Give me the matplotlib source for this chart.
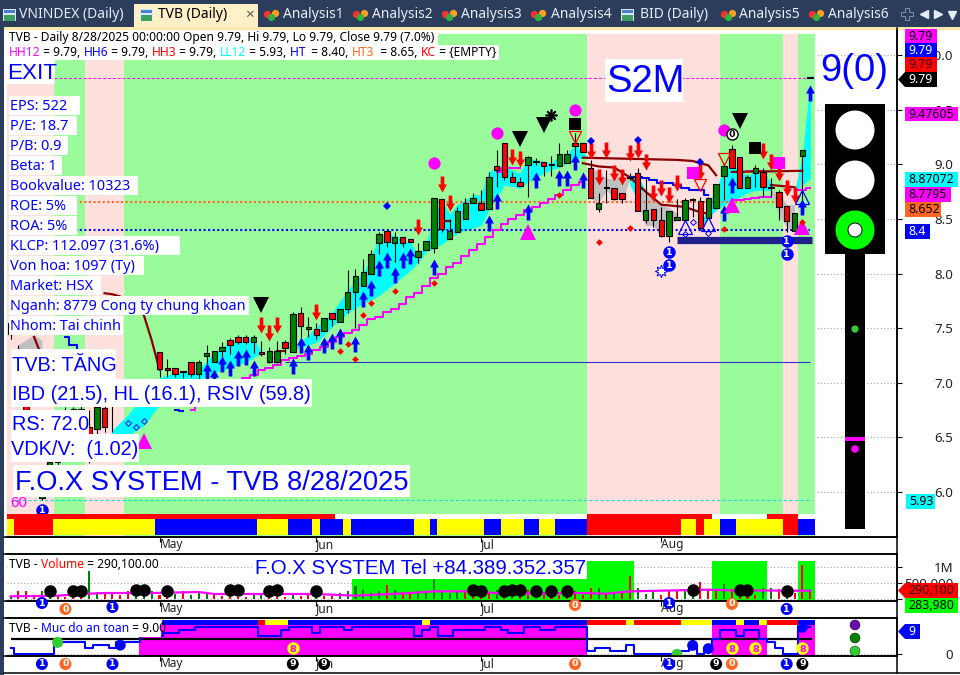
import numpy as np
import matplotlib
matplotlib.use("Agg")
import matplotlib.pyplot as plt
from matplotlib.patches import Rectangle, Circle, Polygon
from matplotlib.path import Path

# ---------- data ----------
bar_index = list(range(-4, 99))
month_labels = ["May", "Jun", "Jul", "Aug"]
month_bars = [15, 35, 56, 79]

opens = [7.55,7.31,7.10,6.72,5.95,6.00,6.28,6.72,6.42,6.76,6.60,6.58,6.77,6.95,6.84,6.84,6.88,6.90,6.95,
 7.28,7.13,7.14,7.11,7.19,7.08,7.25,7.19,7.29,7.39,7.42,7.42,7.37,7.28,7.19,7.19,7.37,7.28,7.64,7.49,7.49,
 7.47,7.64,7.56,7.68,7.83,7.89,8.00,8.28,8.39,8.28,8.33,8.32,8.15,8.22,8.23,8.68,8.32,8.38,8.50,8.65,8.65,
 8.59,8.98,9.19,8.88,8.84,8.99,9.03,9.02,8.99,8.98,9.01,9.19,9.19,8.97,8.59,8.78,8.78,8.74,8.87,8.92,8.49,
 8.59,8.49,8.34,8.49,8.49,8.67,8.66,8.51,8.60,8.89,9.14,9.07,8.78,8.92,8.93,8.78,8.75,8.62,8.39,9.08,9.79]
highs = [7.60,7.35,7.15,6.75,5.98,6.30,6.75,6.78,6.78,6.80,6.75,6.80,6.82,7.00,7.00,7.00,7.00,7.02,7.02,
 7.28,7.22,7.14,7.11,7.19,7.21,7.35,7.29,7.37,7.41,7.44,7.44,7.44,7.38,7.33,7.38,7.39,7.65,7.69,7.60,7.55,
 7.59,7.64,7.68,8.03,8.04,8.13,8.22,8.38,8.39,8.38,8.33,8.32,8.28,8.30,8.69,8.68,8.50,8.61,8.69,8.74,8.76,
 8.93,9.13,9.19,8.93,8.88,9.08,9.06,9.02,9.08,9.19,9.13,9.29,9.19,9.04,8.74,8.95,8.78,8.74,8.92,8.97,8.88,
 8.59,8.61,8.57,8.68,8.69,8.69,8.70,8.70,8.82,9.01,9.18,9.07,8.90,8.99,8.97,8.87,8.76,8.62,8.55,9.13,9.79]
lows = [7.40,7.25,6.72,6.30,5.93,5.98,6.25,6.40,6.40,6.40,6.27,6.52,6.55,6.55,6.80,6.80,6.80,6.85,6.85,
 7.05,7.05,7.05,7.04,7.05,7.03,7.14,7.19,7.21,7.26,7.36,7.36,7.27,7.25,7.18,7.18,7.26,7.28,7.42,7.42,7.40,
 7.47,7.52,7.56,7.64,7.50,7.89,8.00,8.18,8.24,8.11,8.24,8.29,8.10,8.22,8.19,8.38,8.32,8.38,8.50,8.65,8.58,
 8.59,8.79,8.86,8.84,8.80,8.70,8.99,8.89,8.89,8.98,9.01,9.07,9.11,8.69,8.56,8.65,8.67,8.65,8.86,8.57,8.46,
 8.43,8.33,8.29,8.49,8.49,8.52,8.40,8.51,8.60,8.67,8.97,8.78,8.78,8.79,8.70,8.70,8.49,8.38,8.39,8.55,9.79]
closes = [7.45,7.30,6.72,6.30,5.97,6.28,6.72,6.42,6.76,6.45,6.30,6.78,6.60,6.82,6.98,6.95,6.95,7.00,7.00,
 7.13,7.12,7.08,7.10,7.08,7.19,7.27,7.29,7.33,7.35,7.37,7.37,7.42,7.26,7.29,7.29,7.32,7.63,7.52,7.51,7.44,
 7.59,7.58,7.68,7.83,7.98,8.01,8.18,8.36,8.29,8.33,8.28,8.29,8.21,8.30,8.69,8.41,8.39,8.57,8.65,8.69,8.58,
 8.88,8.95,8.88,8.84,8.80,9.07,9.02,8.98,8.99,9.09,9.09,9.17,9.11,8.69,8.65,8.78,8.68,8.68,8.88,8.57,8.58,
 8.49,8.34,8.57,8.52,8.67,8.67,8.42,8.69,8.82,8.98,8.97,8.78,8.88,8.97,8.79,8.78,8.61,8.48,8.55,9.13,9.79]

volume_k = [52,260,260,135,260,208,135,62,156,62,884,218,166,187,135,239,187,135,260,135,62,166,260,135,218,187,
 187,104,156,62,62,166,166,156,62,62,166,83,187,156,83,83,187,260,416,291,187,239,447,270,166,187,239,187,634,
 239,187,260,291,208,208,187,291,208,83,83,291,156,208,156,135,156,239,135,343,343,166,166,239,707,343,166,291,
 135,239,270,270,104,520,291,291,478,312,156,135,135,343,343,312,62,187,1071,290]
volume_colour = list("grrrggrrrrggrrrrgggrrgrgggrrrrrggrrrgrrgrrggggggrgrrggg"
                     "gggrrrrgrgrrgrrrrrrrgrgrrgggrrrggrrrgrrrrggr")
volume_ma_bars = [-4,2,6,8,14,20,22,29,35,40,47,50,55,59,69,72,75,85,88,96,98]
volume_ma_k = [83,104,166,187,187,218,156,156,156,104,187,239,239,166,187,166,239,291,270,260,260]
volume_tick_values = [0, 500, 1000]
volume_tick_labels = ["", "500,000", "1M"]

safety = [2,0,0,0,0,0,4,4,4,4,2,3,3,2,4,4,4,6,6,6,7,7,8,8,9,9,9,9,9,9,9,9,6,6,6,8,9,9,9,7,9,9,9,8,9,9,9,9,9,9,9,9,
 6,8,9,6,6,8,8,8,8,9,9,8,7,7,9,9,8,8,9,9,9,9,1,2,2,1,1,3,0,0,0,0,0,0,1,3,0,2,5,8,8,6,8,8,5,4,2,0,0,9,9]

# regimes, as bar-index edges
bg_edges = [-4.45,1.5,5.45,10.45,69.5,86.5,94.5,96.5,98.6]
bg_kinds = ["p","g","p","g","p","g","p","g"]
ribbon_edges = [-4.45,-3.56,1.45,14.45,27.45,31.4,34.5,35.5,38.45,39.45,47.5,49.5,50.4,56.4,58.5,61.5,63.4,65.5,
 69.5,81.5,83.4,84.5,86.5,88.5,94.5,96.5,98.6]
ribbon_kinds = "yrybybybybybybybybryrybyrb"
alert_starts = [-4.45, 69.5, 92.5]
alert_ends = [37.4, 85.5, 96.5]
vol_zone_starts = [39.5, 85.5, 96.5]
vol_zone_ends = [75.5, 92.5, 98.6]
safe_zone_starts = [12.4, 85.5, 96.5]
safe_zone_ends = [69.5, 92.5, 98.6]
safe_rib_edges = [15.3,27.5,28.5,31.4,48.5,49.5,69.5,74.5,75.5,81.5,85.5,88.5,89.5,91.5,92.5,96.5,98.6]
safe_rib_kinds = "brybybryrybybyrb"

# envelopes
cy_a_x=[9,11,13,15,17,19,20,22,24,26,27,28]
cy_a_hi=[6.57,6.71,6.89,7.05,7.09,7.10,7.12,7.28,7.37,7.41,7.41,7.28]
cy_a_lo=[6.53,6.52,6.61,6.80,6.89,6.95,7.03,7.09,7.14,7.19,7.23,7.28]
cy_b_x=[32,35,37,39,41,42,43,45,47,48,49,50,51,52,53,55,56,57,58,59,61,62,63,65,66,67,68,69.5]
cy_b_hi=[7.30,7.51,7.64,7.85,8.01,8.14,8.35,8.35,8.28,8.17,8.26,8.54,8.67,8.54,8.63,8.72,8.72,8.93,8.97,8.97,8.92,9.06,9.04,9.01,9.08,9.09,9.18,9.07]
cy_b_lo=[7.30,7.37,7.51,7.64,7.73,7.76,7.80,7.91,8.03,8.10,8.20,8.23,8.27,8.32,8.37,8.42,8.44,8.58,8.70,8.81,8.78,8.84,8.88,8.95,8.97,9.01,9.04,9.07]
cy_c_x=[75,76,77]; cy_c_hi=[8.88,8.90,8.76]; cy_c_lo=[8.81,8.67,8.70]
cy_d_x=[84,85,86,87,88,89,90,91,92,93]
cy_d_hi=[8.44,8.63,8.78,8.95,8.99,8.95,8.89,8.95,8.93,8.83]
cy_d_lo=[8.40,8.51,8.58,8.63,8.67,8.70,8.74,8.76,8.76,8.76]
cy_e_x=[96,97,98]; cy_e_hi=[8.76,9.08,9.77]; cy_e_lo=[8.76,8.81,8.87]

gr_a_x=[70,71,72,73,74,75]; gr_a_hi=[8.97,8.93,8.87,8.87,8.87,8.87]; gr_a_lo=[8.69,8.65,8.76,8.69,8.67,8.86]
gr_b_x=[76,77,78,79,80,81]; gr_b_hi=[8.76,8.76,8.70,8.63,8.60,8.55]; gr_b_lo=[8.63,8.44,8.44,8.33,8.44,8.49]
gr_c_x=[93,94,95,96]; gr_c_hi=[8.76,8.74,8.63,8.63]; gr_c_lo=[8.74,8.54,8.42,8.39]
gr_d_x=[96.6,97]; gr_d_hi=[8.72,9.04]; gr_d_lo=[8.72,8.76]
gr_e_x=[31.5,32]; gr_e_hi=[7.39,7.53]; gr_e_lo=[7.39,7.39]
gr_f_x=[-3,-1,0]; gr_f_hi=[7.35,7.44,7.39]; gr_f_lo=[7.30,7.25,7.23]

# trail lines
trail_x=list(range(19,70))
trail=[6.75,6.79,6.84,6.89,6.93,6.98,7.03,7.04,7.07,7.12,7.14,7.16,7.21,7.23,7.25,7.26,7.30,7.33,7.37,7.42,7.46,
 7.48,7.53,7.58,7.60,7.65,7.68,7.72,7.79,7.82,7.89,7.96,8.00,8.06,8.10,8.16,8.22,8.27,8.33,8.40,8.45,8.50,8.54,
 8.58,8.61,8.65,8.68,8.72,8.76,8.81,8.84]
trail_b_x=[58,59,60,61]; trail_b=[8.93,8.97,8.97,8.97]
trail_c_x=[88,89,90,91,92,93]; trail_c=[8.67,8.67,8.68,8.69,8.70,8.70]
trail_d_x=[90,91,92]; trail_d=[8.94,8.94,8.94]
trail_e_x=[96,97,98]; trail_e=[8.76,8.76,8.78]
brown_a_x=[69,71,73,75,77,79,82,84,85]; brown_a=[9.01,8.98,8.97,8.88,8.75,8.63,8.61,8.56,8.55]
brown_b_x=[69,81,83,85,86]; brown_b=[9.06,9.04,9.03,8.99,8.90]
brown_c_x=[88,97]; brown_c=[8.93,8.94]
brown_d_x=[93,96]; brown_d=[8.81,8.79]
brown_e_x=[8,9,10,13,14,15]; brown_e=[7.82,7.81,7.79,7.62,7.39,7.12]
brown_f_x=[-1,0]; brown_f=[7.42,7.24]
brown_g_x=[30,31]; brown_g=[7.29,7.29]
brown_h_x=[51,52]; brown_h=[8.48,8.48]
blue_a_x=[75,76,77,78,79,80,81,82,83,84,85]; blue_a=[8.88,8.88,8.87,8.86,8.83,8.83,8.81,8.78,8.76,8.76,8.72]
blue_b_x=[3,4,5]; blue_b=[7.42,7.35,7.24]
blue_c_x=[17,18]; blue_c=[6.75,6.74]

hh_level=9.79; ht3_level=8.652; ht_level=8.40; mid_level=7.19; ll_level=5.93; floor_level=8.31

# signals
up_x=[21,22,23,24,25,26,27,32,33,34,36,37,38,40,41,42,43,44,45,46,47,50,57,58,62,63,66,67,68,69,87,88,97,98]
up_y=[7.11,7.05,7.17,7.14,7.23,7.24,7.14,7.15,7.35,7.28,7.35,7.38,7.43,7.36,7.77,7.87,8.05,8.12,7.99,8.12,8.16,8.06,
 8.46,8.66,8.56,8.86,8.87,8.87,9.02,8.86,8.55,8.81,8.61,9.65]
down_x=[28,29,30,35,48,51,52,60,61,70,71,72,73,74,75,76,77,78,79,80,81,84,92,93,94,95,96]
down_y=[7.53,7.46,7.53,7.65,8.43,8.82,8.65,9.07,9.05,9.12,8.88,9.13,8.92,8.88,9.10,9.13,9.02,8.74,8.78,8.72,8.83,8.93,
 9.12,9.02,8.92,8.78,8.72]
tri_black_x=[28,61,64,89]; tri_black_y=[7.71,9.23,9.36,9.40]
star_x=[65]; star_y=[9.45]
sq_black_x=[68,91]; sq_black_y=[9.37,9.15]
tri_red_x=[68,84,87]; tri_red_y=[9.25,8.81,9.05]
dot_mag_x=[50,58,68,87]; dot_mag_y=[9.01,9.29,9.50,9.31]
sq_mag_x=[83,94]; sq_mag_y=[8.92,9.01]
tri_mag_x=[13,62,88,97]; tri_mag_y=[6.47,8.38,8.63,8.43]
tri_blue_x=[82,85,97]; tri_blue_y=[8.43,8.45,8.70]
dia_red_x=[38,39,40,41,42,45,50,66,71,75,87,97]; dia_red_y=[7.29,7.36,7.22,7.62,7.73,7.84,7.91,8.72,8.29,8.42,8.41,8.47]
dia_blue_x=[44,70,76,84]; dia_blue_y=[8.62,9.21,9.22,9.02]
dia_open_x=[11,12,13,82,83,85]; dia_open_y=[6.63,6.60,6.65,8.36,8.47,8.37]
one_x=[0,80,80,95,95]; one_y=[5.84,8.20,8.08,8.30,8.18]
snow_x=[79]; snow_y=[8.02]
ring_x=[88]; ring_y=[9.28]

vol_dot_x=[1,4,5,12,13,16,24,25,29,30,35,55,56,59,60,61,63,65,67,83,89,90,95]
vol_dot_k=[245,245,245,270,270,250,270,270,250,270,260,270,260,250,270,270,260,260,260,270,280,270,260]
vol_badge_x=[0,3,9,68,80,88,95]; vol_badge_t=["1","0","1","0","1","0","1"]; vol_badge_row=[603,609,607,605,603,604,609]
safe_badge_x=[0,3,9,32,36,68,80,86,88,95,97]; safe_badge_t=["1","0","1","9","9","0","1","9","0","1","9"]
safe_dot_x=[2,10,81,83,85,97]; safe_dot_v=[3.9,3.0,-0.1,2.9,1.8,9.0]; safe_dot_c=["#32CD32","#0000FF","#32CD32","#0000FF","#0000FF","#0000FF"]
eight_x=[32,88,91,97]; eight_v=[2.0,1.9,1.9,1.9]

price_ticks=[6.0,6.5,7.0,7.5,8.0,8.5,9.0,9.5,10.0]

# ---------- helpers ----------
W,H=960,675
plt.rcParams["font.family"]=["Noto Sans","DejaVu Sans"]
fig=plt.figure(figsize=(9.6,6.75),dpi=100,facecolor="white")
def pane(l,t,r,b,z=1):
    a=fig.add_axes([l/W,1-b/H,(r-l)/W,(b-t)/H],zorder=z)
    a.patch.set_alpha(0)
    return a
XL=(-4.452,109.07)
PINK="#FFE0DC"; LGREEN="#99FB99"; NAVY="#2C3D5B"
RED="#FF0000"; GRN="#008000"; BLUE="#0000FF"; MAG="#FF00FF"; CY="#00FFFF"; BRN="#8B0000"; OR="#FF6622"

def style(a):
    a.set_xlim(*XL)
    for s in ("top","left"):
        a.spines[s].set_visible(False)
    a.spines["bottom"].set_linewidth(1.1); a.spines["right"].set_linewidth(1.1)
    a.set_xticks(month_bars); a.set_xticklabels(month_labels,fontsize=8.6,color="#222222")
    for lb in a.get_xticklabels(): lb.set_ha("left")
    a.tick_params(axis="x",direction="out",length=3.5,width=.8,pad=-2.6)
    a.yaxis.tick_right()
    a.tick_params(axis="y",direction="out",length=3.6,width=.8,labelsize=9.6,labelcolor="#222222",pad=37)
    a.set_axisbelow(True)
    a.grid(axis="y",linestyle=(0,(1,2)),color="#A8A8A8",linewidth=.8)

def ylabels_right(a):
    for lb in a.get_yticklabels(): lb.set_ha("right")

# ---------- main pane ----------
ax=pane(7,30,897,537,1)
style(ax)
ax.set_ylim(5.5895,10.2285)
ax.set_yticks(price_ticks); ax.set_yticklabels([f"{p:.1f}" for p in price_ticks])
ylabels_right(ax)
for a,b,k in zip(bg_edges[:-1],bg_edges[1:],bg_kinds):
    ax.axvspan(a,b,ymin=1/507,ymax=503/507,color=PINK if k=="p" else LGREEN,lw=0,zorder=1)

for x,h,l in ((cy_a_x,cy_a_hi,cy_a_lo),(cy_b_x,cy_b_hi,cy_b_lo),(cy_c_x,cy_c_hi,cy_c_lo),(cy_d_x,cy_d_hi,cy_d_lo),(cy_e_x,cy_e_hi,cy_e_lo)):
    ax.fill_between(x,l,h,color=CY,lw=0,zorder=2)
for x,h,l in ((gr_a_x,gr_a_hi,gr_a_lo),(gr_b_x,gr_b_hi,gr_b_lo),(gr_c_x,gr_c_hi,gr_c_lo),(gr_d_x,gr_d_hi,gr_d_lo),(gr_e_x,gr_e_hi,gr_e_lo),(gr_f_x,gr_f_hi,gr_f_lo)):
    ax.fill_between(x,l,h,color="#C0C0C0",lw=0,zorder=2)

ax.hlines(hh_level,1.5,98,colors=MAG,linestyles=(0,(3,2)),lw=.7,zorder=3)
ax.hlines(ht3_level,-4,94,colors=OR,linestyles=(0,(1,1.2)),lw=1.5,zorder=3)
ax.hlines(ht_level,-4,98,colors=BLUE,linestyles=(0,(1,1.2)),lw=1.5,zorder=3)
ax.hlines(mid_level,31,98,colors="#3030D0",lw=.8,zorder=3)
ax.hlines(ll_level,-4,98,colors="#20D8D8",linestyles=(0,(3,2)),lw=.8,zorder=3)

for x,y in ((trail_x,trail),(trail_b_x,trail_b),(trail_c_x,trail_c),(trail_d_x,trail_d),(trail_e_x,trail_e)):
    ax.step(x,y,where="mid",color=MAG,lw=1.5,zorder=3)
for x,y in ((brown_a_x,brown_a),(brown_b_x,brown_b),(brown_c_x,brown_c),(brown_d_x,brown_d),(brown_e_x,brown_e),(brown_f_x,brown_f),(brown_g_x,brown_g),(brown_h_x,brown_h)):
    ax.plot(x,y,color=BRN,lw=1.6,zorder=3)
for x,y in ((blue_a_x,blue_a),(blue_b_x,blue_b),(blue_c_x,blue_c)):
    ax.step(x,y,where="mid",color=BLUE,lw=1.5,zorder=3)

xs=np.array(bar_index,float); O=np.array(opens); Hi=np.array(highs); Lo=np.array(lows); C=np.array(closes)
ax.vlines(xs,Lo,Hi,colors="black",lw=.8,zorder=4)
ax.bar(xs,np.maximum(np.abs(C-O),.012),bottom=np.minimum(O,C),width=.7,
       color=[GRN if c>=o else RED for o,c in zip(O,C)],edgecolor="black",linewidth=.8,zorder=4.1)

ax.hlines(floor_level,81,98.2,colors="#20208C",lw=5.2,zorder=4.5)

UP=Path([(0,1),(.56,0),(.23,0),(.23,-1),(-.23,-1),(-.23,0),(-.56,0),(0,1)])
DOWN=Path([(0,-1),(.56,0),(.23,0),(.23,1),(-.23,1),(-.23,0),(-.56,0),(0,-1)])
M=dict(ls="none",zorder=5)
ax.plot(up_x,up_y,marker=UP,ms=11.5,mfc=BLUE,mec=BLUE,mew=0,**M)
ax.plot(down_x,down_y,marker=DOWN,ms=11.5,mfc=RED,mec=RED,mew=0,**M)
ax.plot(tri_black_x,tri_black_y,marker="v",ms=11,mfc="k",mec="k",mew=0,**M)
ax.plot(star_x,star_y,marker=(8,2,0),ms=8.5,mec="k",mew=1.2,**M)
ax.plot(sq_black_x,sq_black_y,marker="s",ms=9,mfc="k",mec="k",mew=0,**M)
ax.plot(tri_red_x,tri_red_y,marker="v",ms=9,mfc="none",mec=RED,mew=.9,**M)
ax.plot(dot_mag_x,dot_mag_y,marker="o",ms=8.8,mfc=MAG,mec=MAG,mew=0,**M)
ax.plot(sq_mag_x,sq_mag_y,marker="s",ms=9,mfc=MAG,mec=MAG,mew=0,**M)
ax.plot(tri_mag_x,tri_mag_y,marker="^",ms=11,mfc=MAG,mec=MAG,mew=0,**M)
ax.plot(tri_blue_x,tri_blue_y,marker="^",ms=10,mfc="none",mec=BLUE,mew=.9,**M)
ax.plot(dia_red_x,dia_red_y,marker="D",ms=3.4,mfc=RED,mec=RED,mew=0,**M)
ax.plot(dia_blue_x,dia_blue_y,marker="D",ms=3.6,mfc=BLUE,mec=BLUE,mew=0,**M)
ax.plot(dia_open_x,dia_open_y,marker="D",ms=3,mfc="none",mec=BLUE,mew=.7,**M)
ax.plot(snow_x,snow_y,marker=(8,1,0),ms=9,mfc="white",mec=BLUE,mew=.7,**M)
def badge(a,x,y,t,fc,tc="white",ec=None,ms=9):
    a.plot([x],[y],marker="o",ms=ms,mfc=fc,mec=ec or fc,mew=1 if ec else 0,ls="none",zorder=6,clip_on=False)
    a.text(x,y,t,color=tc,fontsize=6.8,fontweight="bold",ha="center",va="center_baseline",zorder=7,family="DejaVu Sans")
for x,y in zip(one_x,one_y): badge(ax,x,y,"1",BLUE)
for x,y in zip(ring_x,ring_y): badge(ax,x,y,"0","white","black","black",8)

# ribbons
rb=pane(7,514,897,535,5); rb.axis("off"); rb.set_xlim(*XL); rb.set_ylim(21,0)
colours={"y":"#FFFF00","r":RED,"b":BLUE}
rb.broken_barh([(a,b-a) for a,b in zip(alert_starts,alert_ends)],(0,5),color=RED,lw=0)
rb.broken_barh([(-4.45,103.05)],(0,5),color="white",lw=0,zorder=0)
for a,b,k in zip(ribbon_edges[:-1],ribbon_edges[1:],ribbon_kinds):
    rb.broken_barh([(a,b-a)],(5,16),color=colours[k],lw=0)

# ---------- volume pane ----------
av=pane(7,554,897,601,1)
style(av)
av.spines["top"].set_visible(True); av.spines["top"].set_linewidth(1.1)
av.set_ylim(-62.5,1406)
av.set_yticks(volume_tick_values); av.set_yticklabels(volume_tick_labels)
ylabels_right(av)
for a,b in zip(vol_zone_starts,vol_zone_ends):
    av.fill_between([a,b],-40,1190,color="#00FF00",lw=0,zorder=1)
av.bar(bar_index,volume_k,width=.26,color=[GRN if c=="g" else RED for c in volume_colour],lw=0,zorder=2)
av.plot(volume_ma_bars,volume_ma_k,color=MAG,lw=1.6,zorder=3)
av.plot(vol_dot_x,vol_dot_k,marker="o",ms=9,mfc="k",mec="k",mew=0,ls="none",zorder=4)

# ---------- safety pane ----------
asf=pane(7,618,897,656,1)
style(asf)
asf.spines["top"].set_visible(True); asf.spines["top"].set_linewidth(1.1)
asf.set_ylim(-.67,12.12)
asf.set_yticks([0]); asf.set_yticklabels(["0"])
ylabels_right(asf)
for a,b in zip(safe_zone_starts,safe_zone_ends):
    asf.fill_between([a,b],-.67,9.76,color=MAG,lw=0,zorder=1)
for a,b,k in zip(safe_rib_edges[:-1],safe_rib_edges[1:],safe_rib_kinds):
    asf.broken_barh([(a,b-a)],(9.76,1.69),color=colours[k],lw=0,zorder=1)
asf.hlines(5,-4,98.2,colors="k",lw=1.6,zorder=2)
asf.step(bar_index,safety,where="mid",color=BLUE,lw=1.5,zorder=3)
asf.scatter(safe_dot_x,safe_dot_v,s=62,c=safe_dot_c,linewidths=0,zorder=4)
for x,v in zip(eight_x,eight_v):
    badge(asf,x,v,"8","#FFFF00",MAG,ms=9)

# ---------- overlay in pixels ----------
ui=fig.add_axes([0,0,1,1],zorder=10); ui.set_xlim(0,W); ui.set_ylim(H,0); ui.axis("off")
def R(x0,y0,x1,y1,c,z=1,**k):
    ui.add_patch(Rectangle((x0,y0),x1-x0,y1-y0,fc=c,ec="none",zorder=z,**k))
def T(x,y,s,size,c="k",ha="left",fam="Noto Sans",z=5,**k):
    return ui.text(x,y,s,fontsize=size,color=c,ha=ha,va="center",family=fam,zorder=z,**k)
r=fig.canvas.get_renderer()
def width(s,size,fam):
    a=ui.text(0,0,s+"|",fontsize=size,family=fam); b=ui.text(0,0,"|",fontsize=size,family=fam)
    w=a.get_window_extent(r).width-b.get_window_extent(r).width
    a.remove(); b.remove(); return w
def runs(x,y,parts,size,fam="Noto Sans"):
    pre=""
    for s,c in parts:
        T(x+width(pre,size,fam) if pre else x,y,s,size,c,fam=fam)
        pre+=s

for x,yy,t in zip(vol_badge_x,vol_badge_row,vol_badge_t):
    cx=41.9+7.84*x
    ui.add_patch(Circle((cx,yy),6,fc=OR if t=="0" else BLUE,ec="none",zorder=3))
    T(cx,yy,t,6.8,"white",ha="center",fam="DejaVu Sans",fontweight="bold",z=4)
for x,t in zip(safe_badge_x,safe_badge_t):
    cx=41.9+7.84*x
    fc={"0":OR,"1":BLUE,"9":"black"}[t]
    ui.add_patch(Circle((cx,664),6,fc=fc,ec="none",zorder=3))
    T(cx,664,t,6.8,"white",ha="center",fam="DejaVu Sans",fontweight="bold",z=4)

# window frame and tabs
R(0,0,960,27,NAVY); R(0,0,4,675,NAVY)
R(134,4,258,27,"#FFF0C8",z=2); R(4,27,960,29.5,"#FFE9AE",z=2)
ui.plot([4,960],[673,673],color="k",lw=1.1,zorder=2)
ui.plot([897,897],[28,673],color="k",lw=1.1,zorder=2)
for yy in (537,554,601,618,656):
    ui.plot([4,897],[yy,yy],color="k",lw=1.1,zorder=2)
tabs=[(19,"VNINDEX (Daily)"),(283,"Analysis1"),(372,"Analysis2"),(461,"Analysis3"),(551,"Analysis4"),(640,"BID (Daily)"),(739,"Analysis5"),(828,"Analysis6")]
for x,s in tabs: T(x,15,s,10,"#E4ECF6")
T(158,15,"TVB (Daily)",10,"black",fontweight="bold")
T(249,15,"×",11,"#555555",ha="center")
for x in (3,140,621):
    R(x,9,x+13,21,"#D8E8FA",z=3); R(x+1,15,x+12,21,"#3AA060",z=3); R(x+1,10,x+12,13,"#4A7FD0",z=3)
for x in (271,360,449,538,728,816):
    ui.plot([x-4],[14],marker="o",ms=4.2,color="#FF3030",zorder=3)
    ui.plot([x+4],[13],marker="o",ms=4.2,color="#FFA020",zorder=3)
    ui.plot([x],[17],marker="o",ms=4.2,color="#30B040",zorder=3)
ui.plot([907],[14],marker="P",ms=8,mfc="none",mec="#8090A8",mew=.7,zorder=3)
ui.plot([924],[14],marker="<",ms=6,color="#E4ECF6",zorder=3)
ui.plot([938],[14],marker=">",ms=6,color="#E4ECF6",zorder=3)
ui.plot([952],[15],marker="v",ms=6,color="#E4ECF6",zorder=3)

# boxed text in main pane
def box(x0,y0,x1,y1,tx,s,size,c=BLUE,fam="Liberation Sans",dy=1.5,**k):
    R(x0,y0,x1,y1,"white",z=4)
    T(tx,(y0+y1)/2+dy,s,size,c,fam=fam,**k)
R(7,30,438,45,"white",z=3); R(7,45,499,60,"white",z=3)
runs(9,37.5,[("TVB - Daily 8/28/2025 00:00:00 Open 9.79, Hi 9.79, Lo 9.79, Close 9.79 (7.0%)","k")],8.65)
runs(9,52,[("HH12",MAG),(" = 9.79, ","k"),("HH6",BLUE),(" = 9.79, ","k"),("HH3",RED),(" = 9.79, ","k"),("LL12",CY),(" = 5.93, ","k"),
           ("HT ",BLUE),(" = 8.40, ","k"),("HT3",OR),("  = 8.65, ","k"),("KC",RED),(" = {EMPTY}","k")],8.65)
box(6,60,55,84,7,"EXIT",16.2)
info=["EPS: 522","P/E: 18.7","P/B: 0.9","Beta: 1","Bookvalue: 10323","ROE: 5%","ROA: 5%","KLCP: 112.097 (31.6%)","Von hoa: 1097 (Ty)","Market: HSX","Nganh: 8779 Cong ty chung khoan","Nhom: Tai chinh"]
info_right=[80,77,68,62,138,77,77,180,144,101,249,123]
for n,(s,w) in enumerate(zip(info,info_right)):
    yc=105+20*n
    box(9,yc-9.5,w,yc+9.5,10.5,s,10.45,fam="Noto Sans")
box(11,349,116,379,12,"TVB: TĂNG",14.3)
box(11,379,312,407,12,"IBD (21.5), HL (16.1), RSIV (59.8)",14.3)
box(11,410,89,437,12,"RS: 72.0",14.3)
box(11,434,139,462,11,"VDK/V:  (1.02)",14.3)
box(13,465,410,497,15,"F.O.X SYSTEM - TVB 8/28/2025",19.6)
T(10,503,"60",11,MAG,fam="Liberation Sans")
box(605,59,683,102,606,"S2M",27.5)
T(820,71,"9(0)",27.5,BLUE,fam="Liberation Sans")

# traffic light
R(825,104,885,254,"k",z=3); R(845,254,865,529,"k",z=3)
ui.add_patch(Circle((855,130),19.5,fc="white",ec="none",zorder=4))
ui.add_patch(Circle((855,180),19.5,fc="white",ec="none",zorder=4))
ui.add_patch(Circle((855,230),19.5,fc="#00FF00",ec="none",zorder=4))
ui.add_patch(Circle((855,230),7,fc="white",ec="k",lw=.7,zorder=5))
ui.add_patch(Circle((855,329),3.6,fc="#32CD32",ec="none",zorder=4))
R(845,437,865,441,MAG,z=4)
ui.add_patch(Circle((855,449),3.8,fc=MAG,ec="none",zorder=4))

# value tags
def tag(x0,x1,y0,y1,s,bg,tc="k",arrow=False):
    R(x0,y0,x1,y1,bg,z=6)
    if arrow:
        ui.add_patch(Polygon([(x0,y0),(x0,y1),(898,(y0+y1)/2)],closed=True,fc=bg,ec="none",zorder=6))
    T(x0+3.5,(y0+y1)/2,s,8.9,tc,z=7)
tag(905,937,29,43,"9.79",MAG)
tag(905,937,43,57,"9.79",BLUE,"white")
tag(905,937,57,72,"9.79",RED,"#300000")
tag(905,937,72,87,"9.79","k","white",True)
tag(905,958,107,121,"9.47605",MAG)
tag(905,958,172,187,"8.87072",CY)
tag(905,951,187,202,"8.7795",MAG)
tag(905,941,202,217,"8.652",OR)
tag(905,930,224,239,"8.4",BLUE,"white")
tag(906,935,494,509,"5.93",CY)
tag(905,958,583,598,"290,100",RED,"#300000",True)
tag(905,958,598,613,"283,980","#00FF00")
tag(905,920,624,639,"9",BLUE,"white",True)
for y,c in ((625,"#6A0DAD"),(638,"#008000"),(651,"#32CD32")):
    ui.add_patch(Circle((855,y),5,fc=c,ec="k",lw=.3,zorder=5))

# lower pane captions
R(253,557,587,579,"white",z=3)
T(255,569,"F.O.X SYSTEM Tel +84.389.352.357",14.7,BLUE,fam="Liberation Sans")
R(8,556,158,571,"white",z=3)
runs(9,564,[("TVB - ","k"),("Volume",RED),(" = 290,100.00","k")],8.65)
R(8,621,161,637,"white",z=3)
runs(9,628,[("TVB - ","k"),("Muc do an toan",BLUE),(" = 9.00","k")],8.65)

fig.savefig("out.png",dpi=100)
